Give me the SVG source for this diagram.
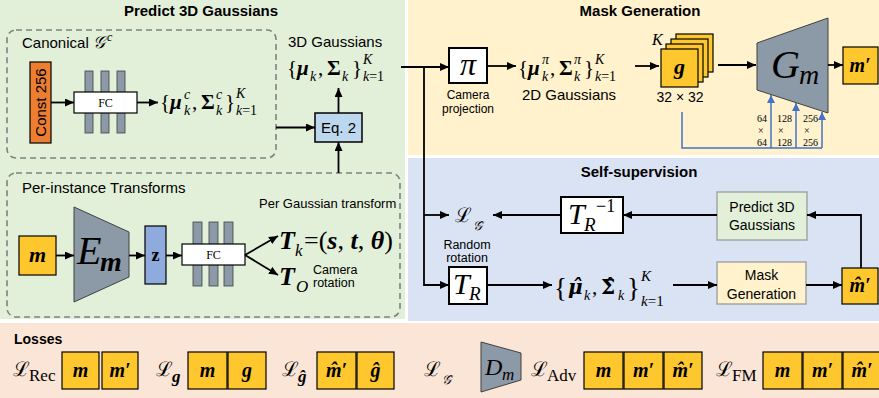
<svg xmlns="http://www.w3.org/2000/svg" width="879" height="398" viewBox="0 0 879 398">
<defs>
<style>
.t{font-family:"Liberation Sans",Arial,sans-serif;fill:#000}
.b{font-weight:bold}
.m{font-family:"Liberation Serif","DejaVu Serif",serif;fill:#000}
.L{font-family:"DejaVu Serif",serif;fill:#000}
.i{font-style:italic}
.bi{font-style:italic;font-weight:bold}
.c{text-anchor:middle}
.dash{fill:none;stroke:#808080;stroke-width:1.6;stroke-dasharray:6 4}
.box{stroke:#000;stroke-width:1.2}
.wb{fill:#fff;stroke:#000;stroke-width:2}
.yel{fill:#fec72e;stroke:#000;stroke-width:1.2}
.bar{fill:#8c99a6;stroke:#404040;stroke-width:0.8}
.ln{fill:none;stroke:#000;stroke-width:1.8}
.bl{fill:none;stroke:#4472c4;stroke-width:1.5}
.gr{fill:#8c99a6;stroke:#404040;stroke-width:1}
</style>
<marker id="ah" markerUnits="userSpaceOnUse" markerWidth="9" markerHeight="8" viewBox="0 0 9 8" refX="9" refY="4" orient="auto"><path d="M0,0 L9,4 L0,8 z" fill="#000"/></marker>
<marker id="ahb" markerUnits="userSpaceOnUse" markerWidth="8" markerHeight="8" viewBox="0 0 8 8" refX="8" refY="4" orient="auto"><path d="M0,0 L8,4 L0,8 z" fill="#4472c4"/></marker>
</defs>

<!-- panels -->
<g id="panels">
<rect x="0" y="0" width="879" height="398" fill="#fff"/>
<rect x="0" y="0" width="405" height="319" fill="#e2efd9"/>
<rect x="408" y="0" width="471" height="155" fill="#fff2cc"/>
<rect x="408" y="158" width="471" height="163" fill="#dae3f3"/>
<rect x="0" y="323" width="879" height="75" fill="#fbe5d6"/>
<text class="t b c" x="201" y="16" font-size="15">Predict 3D Gaussians</text>
<text class="t b c" x="640" y="16" font-size="15">Mask Generation</text>
<text class="t b c" x="639" y="177" font-size="15">Self-supervision</text>
<text class="t b" x="14" y="344" font-size="14">Losses</text>
</g>

<!-- canonical -->
<g id="canonical">
<rect class="dash" x="7" y="30" width="269" height="128" rx="9"/>
<text class="t" x="22" y="48" font-size="15">Canonical <tspan class="m i" font-size="17">𝒢</tspan><tspan class="m i" font-size="12" dx="2" dy="-7">c</tspan></text>
</g>
<g id="const256">
<rect class="box" x="30" y="62" width="21" height="81" fill="#ed7d31"/>
<text class="t c" transform="translate(46,102.5) rotate(-90)" x="0" y="0" font-size="15">Const 256</text>
</g>
<g id="fc1">
<rect class="bar" x="85" y="71" width="8" height="62"/>
<rect class="bar" x="101" y="71" width="8" height="62"/>
<rect class="bar" x="117" y="71" width="8" height="62"/>
<rect class="box" x="74" y="92" width="63" height="21" fill="#fff"/>
<text class="m c" x="105.5" y="107" font-size="12">FC</text>
</g>
<g id="canon-gauss">
<text class="m" x="160" y="109" font-size="21">{</text>
<text class="m bi" x="170" y="109" font-size="21">μ</text>
<text class="m i" x="184" y="99" font-size="14">c</text>
<text class="m i" x="184" y="115" font-size="14">k</text>
<text class="m" x="192" y="109" font-size="21">,</text>
<text class="m b" x="201" y="109" font-size="21">Σ</text>
<text class="m i" x="216" y="99" font-size="14">c</text>
<text class="m i" x="216" y="115" font-size="14">k</text>
<text class="m" x="225" y="109" font-size="21">}</text>
<text class="m i" x="236" y="98" font-size="14">K</text>
<text class="m" x="236" y="115" font-size="14"><tspan class="i">k</tspan>=1</text>
</g>

<!-- eq 2 & 3D gaussians -->
<g id="eq2">
<rect x="315" y="113" width="47" height="29" fill="#bdd7ee" stroke="#000" stroke-width="1.5"/>
<text class="t c" x="338.5" y="133" font-size="15">Eq. 2</text>
</g>
<g id="gauss3d">
<text class="t" x="288" y="47" font-size="15">3D Gaussians</text>
<text class="m" x="287" y="75" font-size="21">{</text>
<text class="m bi" x="297" y="75" font-size="21">μ</text>
<text class="m i" x="310" y="81" font-size="14">k</text>
<text class="m" x="318" y="75" font-size="21">,</text>
<text class="m b" x="327" y="75" font-size="21">Σ</text>
<text class="m i" x="342" y="81" font-size="14">k</text>
<text class="m" x="352" y="75" font-size="21">}</text>
<text class="m i" x="363" y="64" font-size="14">K</text>
<text class="m" x="363" y="81" font-size="14"><tspan class="i">k</tspan>=1</text>
</g>

<!-- per-instance -->
<g id="perinstance">
<rect class="dash" x="7" y="173" width="393" height="144" rx="9"/>
<text class="t" x="22" y="193" font-size="15">Per-instance Transforms</text>
</g>
<g id="m-in">
<rect class="yel" x="19" y="236" width="37" height="39"/>
<text class="m bi c" x="37.5" y="262" font-size="22">m</text>
</g>
<g id="Em">
<polygon class="gr" points="74,207 129,232 129,277 74,302"/>
<text class="m i" x="77" y="264" font-size="40">E</text>
<text class="m bi" x="100" y="271" font-size="28">m</text>
</g>
<g id="z">
<rect class="box" x="145" y="226" width="21" height="58" fill="#8faadc"/>
<text class="m b c" x="155.5" y="261" font-size="18">z</text>
</g>
<g id="fc2">
<rect class="bar" x="193" y="222" width="9" height="64"/>
<rect class="bar" x="209" y="222" width="9" height="64"/>
<rect class="bar" x="224" y="222" width="9" height="64"/>
<rect class="box" x="182" y="244" width="63" height="21" fill="#fff"/>
<text class="m c" x="213.5" y="259" font-size="12">FC</text>
</g>
<g id="Tk">
<text class="t" x="259" y="208" font-size="13">Per Gaussian transform</text>
<text class="m bi" x="279" y="249" font-size="26">T</text>
<text class="m i" x="295" y="256" font-size="17">k</text>
<text class="m" x="304" y="249" font-size="26">=(<tspan class="bi">s</tspan>, <tspan class="bi">t</tspan>, <tspan class="bi">θ</tspan>)</text>
</g>
<g id="TO">
<text class="m bi" x="279" y="285" font-size="26">T</text>
<text class="m i" x="296" y="292" font-size="17">O</text>
<text class="t" x="313" y="274" font-size="12.5">Camera</text>
<text class="t" x="313" y="287" font-size="12.5">rotation</text>
</g>

<!-- mask generation -->
<g id="pi">
<rect class="wb" x="449" y="48" width="38" height="35"/>
<text class="m i c" x="468" y="75" font-size="32">π</text>
<text class="t c" x="468" y="99" font-size="12">Camera</text>
<text class="t c" x="468" y="113" font-size="12">projection</text>
</g>
<g id="gauss2d">
<text class="m" x="518" y="75" font-size="21">{</text>
<text class="m bi" x="528" y="75" font-size="21">μ</text>
<text class="m i" x="542" y="64" font-size="14">π</text>
<text class="m i" x="542" y="81" font-size="14">k</text>
<text class="m" x="550" y="75" font-size="21">,</text>
<text class="m b" x="559" y="75" font-size="21">Σ</text>
<text class="m i" x="574" y="64" font-size="14">π</text>
<text class="m i" x="574" y="81" font-size="14">k</text>
<text class="m" x="584" y="75" font-size="21">}</text>
<text class="m i" x="595" y="64" font-size="14">K</text>
<text class="m" x="595" y="81" font-size="14"><tspan class="i">k</tspan>=1</text>
<text class="t c" x="569" y="100" font-size="15">2D Gaussians</text>
</g>
<g id="gstack">
<rect class="yel" x="676" y="34" width="37" height="38"/>
<rect class="yel" x="671" y="39" width="37" height="38"/>
<rect class="yel" x="666" y="44" width="37" height="38"/>
<rect class="yel" x="661" y="49" width="37" height="38"/>
<text class="m bi c" x="679.5" y="74" font-size="22">g</text>
<text class="m i" x="652" y="45" font-size="16">K</text>
<text class="t c" x="680" y="102" font-size="14">32 × 32</text>
</g>
<g id="Gm">
<polygon class="gr" points="757,43 828,18 828,113 757,90"/>
<text class="m i" x="771" y="78" font-size="40">G</text>
<text class="m i" x="799" y="84" font-size="28">m</text>
</g>
<g id="mprime">
<rect class="yel" x="843" y="47" width="35" height="37"/>
<text class="m bi c" x="860" y="72" font-size="20">m′</text>
</g>
<g id="scales">
<text class="m" x="757" y="122" font-size="10">64</text>
<text class="m" x="758" y="134" font-size="10">×</text>
<text class="m" x="757" y="146" font-size="10">64</text>
<text class="m" x="777" y="122" font-size="10">128</text>
<text class="m" x="778" y="134" font-size="10">×</text>
<text class="m" x="777" y="146" font-size="10">128</text>
<text class="m" x="803" y="122" font-size="10">256</text>
<text class="m" x="804" y="134" font-size="10">×</text>
<text class="m" x="803" y="146" font-size="10">256</text>
</g>

<!-- self-supervision -->
<g id="Lhat">
<text class="L" x="455" y="222" font-size="20">ℒ</text>
<text class="m i" x="473" y="230" font-size="13">𝒢̂</text>
</g>
<g id="TRinv">
<rect class="wb" x="561" y="197" width="62" height="36"/>
<text class="m i" x="568" y="224" font-size="30">T</text>
<text class="m i" x="584" y="231" font-size="19">R</text>
<text class="m" x="596" y="212" font-size="18">−1</text>
</g>
<g id="predict3d">
<rect x="717" y="192" width="90" height="48" fill="#e2efd9" stroke="#a5a5a5" stroke-width="1.5"/>
<text class="t c" x="762" y="212" font-size="14">Predict 3D</text>
<text class="t c" x="762" y="230" font-size="14">Gaussians</text>
</g>
<g id="TR">
<text class="t c" x="467" y="249" font-size="12.5">Random</text>
<text class="t c" x="467" y="262" font-size="12.5">rotation</text>
<rect class="wb" x="449" y="267" width="38" height="37"/>
<text class="m i" x="453" y="294" font-size="30">T</text>
<text class="m i" x="469" y="300" font-size="19">R</text>
</g>
<g id="gausshat">
<text class="m" x="554" y="297" font-size="27">{</text>
<text class="bi" x="568" y="294" font-size="20" font-family="DejaVu Serif, serif">μ̂</text>
<text class="m i" x="584" y="300" font-size="14">k</text>
<text class="m" x="592" y="294" font-size="21">,</text>
<text class="b" x="601" y="294" font-size="20" font-family="DejaVu Serif, serif">Σ̂</text>
<text class="m i" x="618" y="300" font-size="14">k</text>
<text class="m" x="627" y="297" font-size="27">}</text>
<text class="m i" x="641" y="281" font-size="15">K</text>
<text class="m" x="641" y="306" font-size="15"><tspan class="i">k</tspan>=1</text>
</g>
<g id="maskgen">
<rect x="717" y="262" width="89" height="42" fill="#fff2cc" stroke="#a5a5a5" stroke-width="1.5"/>
<text class="t c" x="761.5" y="280" font-size="14">Mask</text>
<text class="t c" x="761.5" y="299" font-size="14">Generation</text>
</g>
<g id="mhatprime">
<rect class="yel" x="842" y="268" width="36" height="36"/>
<text class="m bi c" x="860" y="292" font-size="20">m̂′</text>
</g>

<!-- connectors -->
<g id="connectors">
<path class="ln" d="M51,102.5 H74" marker-end="url(#ah)"/>
<path class="ln" d="M137,102.5 H158" marker-end="url(#ah)"/>
<path class="ln" d="M276,127.5 H315" marker-end="url(#ah)"/>
<path class="ln" d="M338.5,113 V88" marker-end="url(#ah)"/>
<path class="ln" d="M338.5,173 V142" marker-end="url(#ah)"/>
<path class="ln" d="M56,255.5 H74" marker-end="url(#ah)"/>
<path class="ln" d="M129,255.5 H145" marker-end="url(#ah)"/>
<path class="ln" d="M166,255.5 H182" marker-end="url(#ah)"/>
<path class="ln" d="M245,255 L278,236" marker-end="url(#ah)"/>
<path class="ln" d="M245,255 L278,275" marker-end="url(#ah)"/>
<path class="ln" d="M401,67 H449" marker-end="url(#ah)"/>
<path class="ln" d="M424,67 V285 H449" marker-end="url(#ah)"/>
<path class="ln" d="M424,215 H449" marker-end="url(#ah)"/>
<path class="ln" d="M487,66 H516" marker-end="url(#ah)"/>
<path class="ln" d="M635,66 H659" marker-end="url(#ah)"/>
<path class="ln" d="M718,65 H756" marker-end="url(#ah)"/>
<path class="ln" d="M828,65 H843" marker-end="url(#ah)"/>
<path class="ln" d="M561,215 H493" marker-end="url(#ah)"/>
<path class="ln" d="M717,215 H623" marker-end="url(#ah)"/>
<path class="ln" d="M861,268 V215 H807" marker-end="url(#ah)"/>
<path class="ln" d="M487,285 H552" marker-end="url(#ah)"/>
<path class="ln" d="M673,285 H717" marker-end="url(#ah)"/>
<path class="ln" d="M806,285 H842" marker-end="url(#ah)"/>
<path class="bl" d="M682,112 V148 H822"/>
<path class="bl" d="M771,148 V95" marker-end="url(#ahb)"/>
<path class="bl" d="M796,148 V103" marker-end="url(#ahb)"/>
<path class="bl" d="M822,148 V112" marker-end="url(#ahb)"/>
</g>

<!-- losses -->
<g id="loss-rec">
<text class="L" x="13" y="376" font-size="20">ℒ</text>
<text class="m" x="29" y="381" font-size="17">Rec</text>
<rect class="yel" x="62" y="352" width="37" height="37"/>
<text class="m bi c" x="80.5" y="377" font-size="20">m</text>
<rect class="yel" x="102" y="352" width="36" height="37"/>
<text class="m bi c" x="120" y="377" font-size="20">m′</text>
</g>
<g id="loss-g">
<text class="L" x="156" y="376" font-size="20">ℒ</text>
<text class="m bi" x="172" y="382" font-size="17">g</text>
<rect class="yel" x="188" y="352" width="39" height="37"/>
<text class="m bi c" x="207.5" y="377" font-size="20">m</text>
<rect class="yel" x="228" y="352" width="38" height="37"/>
<text class="m bi c" x="247" y="377" font-size="20">g</text>
</g>
<g id="loss-ghat">
<text class="L" x="282" y="376" font-size="20">ℒ</text>
<text class="m bi" x="298" y="382" font-size="17">ĝ</text>
<rect class="yel" x="317" y="352" width="39" height="37"/>
<text class="m bi c" x="336.5" y="377" font-size="20">m̂′</text>
<rect class="yel" x="357" y="352" width="37" height="37"/>
<text class="m bi c" x="375.5" y="377" font-size="20">ĝ</text>
</g>
<g id="loss-Ghat">
<text class="L" x="424" y="376" font-size="20">ℒ</text>
<text class="m i" x="442" y="384" font-size="13">𝒢̂</text>
</g>
<g id="Dm">
<polygon class="gr" points="481,342 521,353 521,380 481,392"/>
<text class="m i" x="485" y="375" font-size="24">D</text>
<text class="m i" x="502" y="380" font-size="17">m</text>
</g>
<g id="loss-adv">
<text class="L" x="531" y="376" font-size="20">ℒ</text>
<text class="m" x="547" y="381" font-size="17">Adv</text>
<rect class="yel" x="584" y="352" width="39" height="37"/>
<text class="m bi c" x="603.5" y="377" font-size="20">m</text>
<rect class="yel" x="624" y="352" width="39" height="37"/>
<text class="m bi c" x="643.5" y="377" font-size="20">m′</text>
<rect class="yel" x="664" y="352" width="38" height="37"/>
<text class="m bi c" x="683" y="377" font-size="20">m̂′</text>
</g>
<g id="loss-fm">
<text class="L" x="716" y="376" font-size="20">ℒ</text>
<text class="m" x="732" y="381" font-size="17">FM</text>
<rect class="yel" x="763" y="352" width="39" height="37"/>
<text class="m bi c" x="782.5" y="377" font-size="20">m</text>
<rect class="yel" x="803" y="352" width="39" height="37"/>
<text class="m bi c" x="822.5" y="377" font-size="20">m′</text>
<rect class="yel" x="843" y="352" width="38" height="37"/>
<text class="m bi c" x="862" y="377" font-size="20">m̂′</text>
</g>
</svg>
